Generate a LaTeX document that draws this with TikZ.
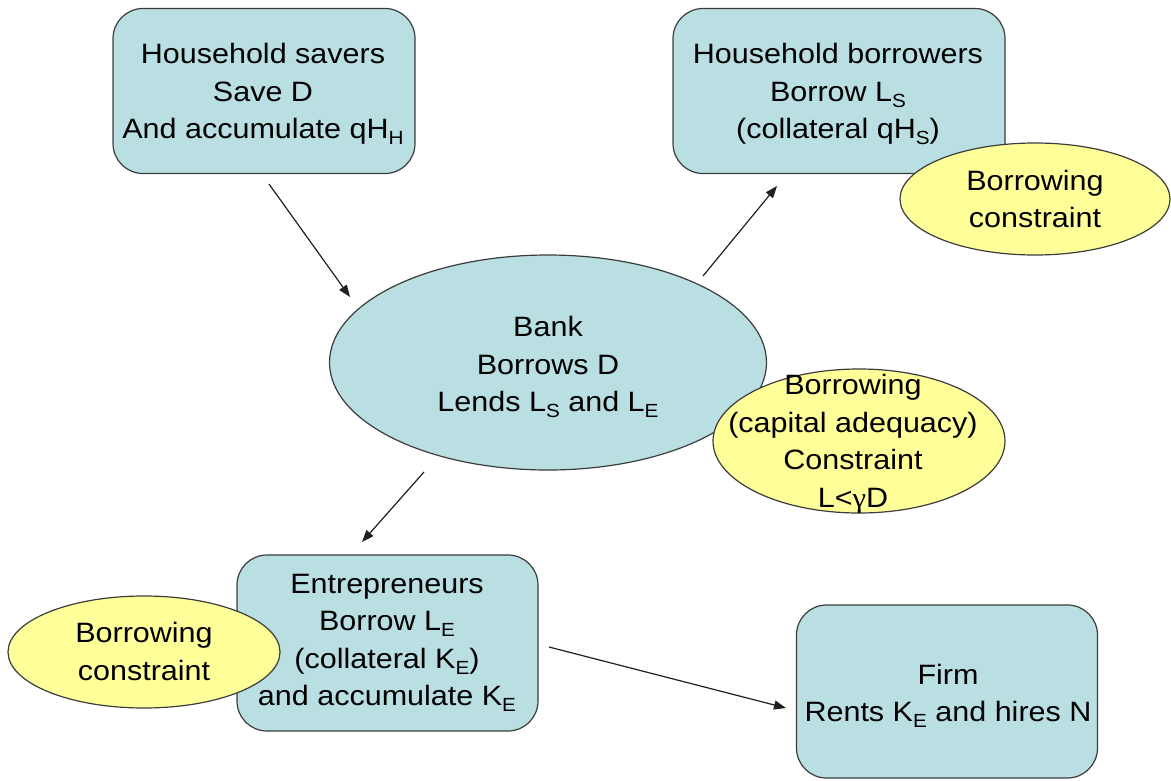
\documentclass[tikz,border=0pt]{standalone}
\usepackage{fontspec}
\setmainfont{Liberation Sans}[FakeStretch=1.09]
\newfontfamily\gfont{Liberation Serif}[FakeStretch=1.09]
\usetikzlibrary{shapes.geometric,arrows.meta,calc}
\definecolor{boxblue}{HTML}{B9DFE2}
\definecolor{ellyellow}{HTML}{FFFF99}
\definecolor{edgegray}{HTML}{3C3C3C}
\definecolor{arrowgray}{HTML}{202020}
\newcommand\sbs[1]{\raisebox{-6pt}{\fontsize{19}{19}\selectfont #1}}
\begin{document}
\begin{tikzpicture}[x=1pt,y=-1pt,
  box/.style={draw=edgegray, line width=1.2pt, fill=boxblue, rectangle, rounded corners=30pt, inner sep=0pt, outer sep=0pt},
  blueell/.style={draw=edgegray, line width=1.2pt, fill=boxblue, ellipse, inner sep=0pt, outer sep=0pt},
  yelell/.style={draw=edgegray, line width=1.2pt, fill=ellyellow, ellipse, inner sep=0pt, outer sep=0pt},
  txt/.style={align=center, inner sep=0pt, font=\fontsize{28}{37.5}\selectfont, text=black},
  arr/.style={draw=arrowgray, line width=1.2pt, -{Triangle[length=12pt,width=9pt]}}]
\fill[white] (0,0) rectangle (1171,780);
\useasboundingbox (0,0) rectangle (1171,780);
% household savers
\node[box, minimum width=302pt, minimum height=165pt] (hs) at (264,91) {};
\node[txt] (hst) at (263,94) {Household savers\\Save D\\And accumulate qH\sbs{H}};
% household borrowers
\node[box, minimum width=332pt, minimum height=165pt] (hb) at (839,91) {};
\node[txt] (hbt) at (838,94) {Household borrowers\\Borrow L\sbs{S}\\(collateral qH\sbs{S})};
\node[yelell, minimum width=270pt, minimum height=112pt] (bc1) at (1035,199) {};
\node[txt] (bc1t) at (1035,199) {Borrowing\\constraint};
% bank
\node[blueell, minimum width=437pt, minimum height=215pt] (bank) at (548,362.5) {};
\node[txt] (bankt) at (548,367) {Bank\\Borrows D\\Lends L\sbs{S} and L\sbs{E}};
\node[yelell, minimum width=292pt, minimum height=144pt] (cap) at (859,441) {};
\node[txt] (capt) at (853,444) {Borrowing\\(capital adequacy)\\Constraint\\L<{\gfont γ}D};
% entrepreneurs
\node[box, minimum width=301pt, minimum height=176pt] (ent) at (387.5,643) {};
\node[txt] (entt) at (387,643) {Entrepreneurs\\Borrow L\sbs{E}\\(collateral K\sbs{E})\\and accumulate K\sbs{E}};
\node[yelell, minimum width=272pt, minimum height=112pt] (bc2) at (144,652) {};
\node[txt] (bc2t) at (144,651.5) {Borrowing\\constraint};
% firm
\node[box, minimum width=301pt, minimum height=173pt] (firm) at (947,691.5) {};
\node[txt] (firmt) at (948,696) {Firm\\Rents K\sbs{E} and hires N};
% arrows
\draw[arr] ($(hs.south)+(5,10.5)$) -- ($(bank.center)+(-198,-65.5)$);
\draw[arr] ($(bank.center)+(155,-86.5)$) -- ($(hb.south)+(-62,12.5)$);
\draw[arr] ($(bank.south)+(-124,2)$) -- ($(ent.north)+(-25.5,-13)$);
\draw[arr] ($(ent.east)+(11,4)$) -- ($(firm.west)+(-10.5,16.5)$);
\end{tikzpicture}
\end{document}
